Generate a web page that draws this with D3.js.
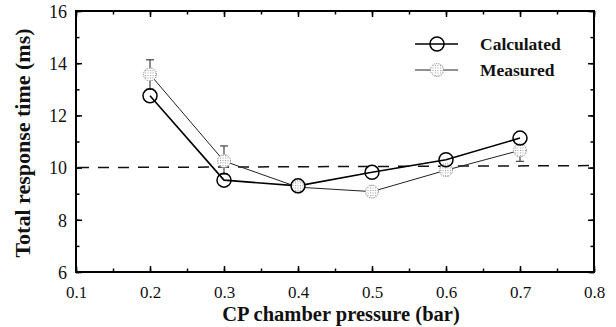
<!DOCTYPE html>
<html><head><meta charset="utf-8">
<script src="https://cdn.jsdelivr.net/npm/d3@7"></script>
<style>body{margin:0;background:#fff}svg{display:block}text{font-family:"Liberation Serif","Times New Roman",serif}</style>
</head><body><svg id="c" width="616" height="327"></svg>
<script>
const pressure = [0.2, 0.3, 0.4, 0.5, 0.6, 0.7];
const calculated = [12.75, 9.52, 9.3, 9.82, 10.3, 11.13];
const measured = [13.57, 10.25, 9.25, 9.08, 9.9, 10.66];
const measuredErrHigh = [14.13, 10.83, null, null, null, null];
const measuredErrLow = [13.0, 9.75, null, null, null, 10.24];
const xTicks = [0.1, 0.2, 0.3, 0.4, 0.5, 0.6, 0.7, 0.8];
const yTicks = [6, 8, 10, 12, 14, 16];
const refLine = 10;
const seriesNames = ["Calculated", "Measured"];

const SERIF = '"Liberation Serif","Times New Roman",serif';
const svg = d3.select("#c");
const L = 76, R = 594, T = 11, B = 272;
const x = d3.scaleLinear().domain([0.1, 0.8]).range([L, R]);
const y = d3.scaleLinear().domain([6, 16]).range([B, T]);

const defs = svg.append("defs");
const pat = defs.append("pattern").attr("id", "dots").attr("width", 2.5).attr("height", 2.5).attr("patternUnits", "userSpaceOnUse");
pat.append("rect").attr("width", 2.5).attr("height", 2.5).attr("fill", "#fff");
pat.append("rect").attr("width", 1).attr("height", 1).attr("fill", "#999");

const fmtX = d3.format(".1f");
const xMinor = d3.range(0.1, 0.8001, 0.05);
const yMinor = d3.range(6, 16.001, 1);
function tickAxis(axisFn, scale, ticks, len, fmt, tr) {
  const g = svg.append("g").attr("transform", tr).call(axisFn(scale).tickValues(ticks).tickSize(len).tickPadding(0).tickFormat(fmt));
  g.attr("font-family", SERIF);
  g.select(".domain").remove();
  g.selectAll("line").attr("stroke", "#000").attr("stroke-width", 1.5);
  return g;
}
const gb = tickAxis(d3.axisBottom, x, xTicks, -6, fmtX, `translate(0,${B})`);
gb.selectAll("text").attr("font-size", 17).attr("font-family", SERIF).attr("fill", "#111").attr("dy", 0).attr("y", 26);
tickAxis(d3.axisBottom, x, xMinor, -3.5, "", `translate(0,${B})`).selectAll("text").remove();
tickAxis(d3.axisTop, x, xTicks, -6, "", `translate(0,${T})`).selectAll("text").remove();
tickAxis(d3.axisTop, x, xMinor, -3.5, "", `translate(0,${T})`).selectAll("text").remove();
const gl = tickAxis(d3.axisLeft, y, yTicks, -6, d3.format("d"), `translate(${L},0)`);
gl.selectAll("text").attr("font-size", 18).attr("font-family", SERIF).attr("fill", "#111").attr("x", -9).attr("dy", "0.35em");
tickAxis(d3.axisLeft, y, yMinor, -3.5, "", `translate(${L},0)`).selectAll("text").remove();
tickAxis(d3.axisRight, y, yTicks, -6, "", `translate(${R},0)`).selectAll("text").remove();
tickAxis(d3.axisRight, y, yMinor, -3.5, "", `translate(${R},0)`).selectAll("text").remove();

svg.append("rect").attr("x", L).attr("y", T).attr("width", R - L).attr("height", B - T)
  .attr("fill", "none").attr("stroke", "#000").attr("stroke-width", 2);

svg.append("line").attr("x1", x(0.1) + 2).attr("x2", x(0.8) - 2).attr("y1", y(refLine)).attr("y2", y(refLine) - 2)
  .attr("stroke", "#111").attr("stroke-width", 1.5).attr("stroke-dasharray", "11,9");

svg.append("text").attr("x", 341).attr("y", 321).attr("text-anchor", "middle").attr("font-size", 20.5).attr("font-weight", "bold").attr("fill", "#111").text("CP chamber pressure (bar)");
svg.append("text").attr("transform", "translate(30,143) rotate(-90)").attr("text-anchor", "middle").attr("font-size", 22).attr("font-weight", "bold").attr("fill", "#111").text("Total response time (ms)");

const line = d3.line().x(d => x(d[0])).y(d => y(d[1]));
const calcPts = pressure.map((p, i) => [p, calculated[i]]);
const measPts = pressure.map((p, i) => [p, measured[i]]);

pressure.forEach((p, i) => {
  const hi = measuredErrHigh[i], lo = measuredErrLow[i];
  const g = svg.append("g").attr("stroke", "#444").attr("stroke-width", 1.2);
  if (hi != null) {
    g.append("line").attr("x1", x(p)).attr("x2", x(p)).attr("y1", y(measured[i])).attr("y2", y(hi));
    g.append("line").attr("x1", x(p) - 4).attr("x2", x(p) + 4).attr("y1", y(hi)).attr("y2", y(hi));
  }
  if (lo != null) {
    g.append("line").attr("x1", x(p)).attr("x2", x(p)).attr("y1", y(measured[i])).attr("y2", y(lo));
    g.append("line").attr("x1", x(p) - 4).attr("x2", x(p) + 4).attr("y1", y(lo)).attr("y2", y(lo));
  }
});

svg.append("path").datum(measPts).attr("d", line).attr("fill", "none").attr("stroke", "#222").attr("stroke-width", 1);
svg.append("path").datum(calcPts).attr("d", line).attr("fill", "none").attr("stroke", "#000").attr("stroke-width", 1.6);

function measMarker(g, cx, cy) {
  g.append("circle").attr("cx", cx).attr("cy", cy).attr("r", 6.5).attr("fill", "url(#dots)")
    .attr("stroke", "#888").attr("stroke-width", 1).attr("stroke-dasharray", "1.2,1.2");
}
function calcMarker(g, cx, cy) {
  g.append("circle").attr("cx", cx).attr("cy", cy).attr("r", 7).attr("fill", "none")
    .attr("stroke", "#000").attr("stroke-width", 1.5);
}
measPts.forEach(d => measMarker(svg, x(d[0]), y(d[1])));
calcPts.forEach(d => calcMarker(svg, x(d[0]), y(d[1])));

const lg = svg.append("g");
lg.append("line").attr("x1", 415).attr("x2", 458).attr("y1", 44).attr("y2", 44).attr("stroke", "#000").attr("stroke-width", 1.5);
calcMarker(lg, 437, 44);
lg.append("line").attr("x1", 415).attr("x2", 458).attr("y1", 70).attr("y2", 70).attr("stroke", "#222").attr("stroke-width", 1);
measMarker(lg, 437, 70);
lg.append("text").attr("x", 480).attr("y", 50).attr("font-size", 17.5).attr("font-weight", "bold").attr("fill", "#111").text(seriesNames[0]);
lg.append("text").attr("x", 480).attr("y", 76).attr("font-size", 17.5).attr("font-weight", "bold").attr("fill", "#111").text(seriesNames[1]);
</script></body></html>
